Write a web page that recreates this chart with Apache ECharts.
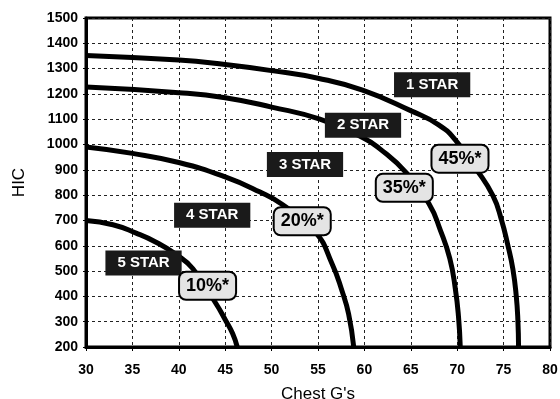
<!DOCTYPE html>
<html>
<head>
<meta charset="utf-8">
<script src="https://cdn.jsdelivr.net/npm/echarts@6/dist/echarts.min.js"></script>
<style>
html,body{margin:0;padding:0;background:#fff;}
#chart{width:560px;height:399px;}
</style>
</head>
<body>
<div id="chart"></div>
<script>
// Curves (Chest G's, HIC)
const curve45 = [[30,1352],[40,1334],[45,1316],[50,1292],[55,1262],[59.8,1215],[65.1,1132],[68,1078],[69.75,1020],[72.07,902],[73.86,797],[74.75,705],[75.47,600],[76.0,508],[76.36,403],[76.54,305],[76.61,200]];
const curve35 = [[30,1227],[40,1205],[45,1185],[50,1148],[55.2,1100],[59.8,1028],[61.6,985],[64.5,889],[66.96,766],[68.2,660],[69.2,550],[69.8,430],[70.15,315],[70.33,200]];
const curve20 = [[30,990],[35,965],[40,929],[45,872],[48.7,813],[51.2,762],[54.7,655],[56.5,530],[57.6,420],[58.3,330],[58.85,200]];
const curve10 = [[30,700],[32.9,683],[35.4,650],[37.5,615],[39.7,566],[41.5,510],[44.0,372],[45.05,305],[45.8,253],[46.3,200]];

// Label texts and positions (data coordinates)
const starText = ['1 STAR','2 STAR','3 STAR','4 STAR','5 STAR'];
const starX = [67.3, 59.85, 53.6, 43.6, 36.2];
const starY = [1236, 1076, 921, 721, 532];
const pctText = ['45%*','35%*','20%*','10%*'];
const pctX = [70.3, 64.3, 53.3, 43.1];
const pctY = [944, 829, 697, 442];

// Axis ticks
const xMin = 30, xMax = 80, xStep = 5;
const yMin = 200, yMax = 1500, yStep = 100;

const FONT = '"Liberation Sans", Arial, sans-serif';
const chart = echarts.init(document.getElementById('chart'));

function lineSeries(d){
  return {type:'line', data:d, smooth:0.5, symbol:'none',
    lineStyle:{color:'#000', width:5}, z:3, silent:true};
}

chart.setOption({
  animation:false,
  backgroundColor:'#fff',
  grid:{left:86, right:10, top:18, bottom:52, outerBoundsMode:'none', containLabel:false,
    show:true, borderColor:'#000', borderWidth:3, backgroundColor:'transparent'},
  xAxis:{type:'value', min:xMin, max:xMax, interval:xStep,
    name:"Chest G's", nameLocation:'middle', nameGap:39,
    nameTextStyle:{fontFamily:FONT, fontSize:17, color:'#000'},
    axisLine:{show:true, lineStyle:{color:'#000', width:3}},
    axisTick:{show:true, length:4, lineStyle:{color:'#000'}},
    axisLabel:{fontFamily:FONT, fontSize:14, fontWeight:'bold', color:'#000', margin:16, formatter:v=>String(v)},
    splitLine:{show:true, lineStyle:{color:'#222', width:1, type:[3,3]}}
  },
  yAxis:{type:'value', min:yMin, max:yMax, interval:yStep,
    name:'HIC', nameLocation:'middle', nameGap:58, nameRotate:90,
    nameTextStyle:{fontFamily:FONT, fontSize:17, color:'#000'},
    axisLine:{show:true, lineStyle:{color:'#000', width:3}},
    axisTick:{show:true, length:3, lineStyle:{color:'#000'}},
    axisLabel:{fontFamily:FONT, fontSize:14, fontWeight:'bold', color:'#000', margin:8, formatter:v=>String(v)},
    splitLine:{show:true, lineStyle:{color:'#222', width:1, type:[3,3]}}
  },
  series:[
    lineSeries(curve45), lineSeries(curve35), lineSeries(curve20), lineSeries(curve10),
    {type:'scatter', symbolSize:0, z:10, silent:true, itemStyle:{opacity:1, color:'#000'},
      data: starText.map((t,i)=>({value:[starX[i], starY[i]], name:t})),
      label:{show:true, position:'inside', formatter:p=>p.name,
        fontFamily:FONT, fontSize:15, fontWeight:'bold', color:'#fff', textBorderWidth:0, opacity:1,
        lineHeight:16, backgroundColor:'#1a1a1a', padding:[5,12,4,12]}
    },
    {type:'scatter', symbolSize:0, z:10, silent:true, itemStyle:{opacity:1, color:'#000'},
      data: pctText.map((t,i)=>({value:[pctX[i], pctY[i]], name:t})),
      label:{show:true, position:'inside', formatter:p=>p.name,
        fontFamily:FONT, fontSize:18, fontWeight:'bold', color:'#000', textBorderWidth:0, opacity:1,
        lineHeight:19, backgroundColor:'#e4e4e4', borderColor:'#000', borderWidth:2, borderRadius:6,
        padding:[4,6,3,6]}
    }
  ]
});
</script>
</body>
</html>
